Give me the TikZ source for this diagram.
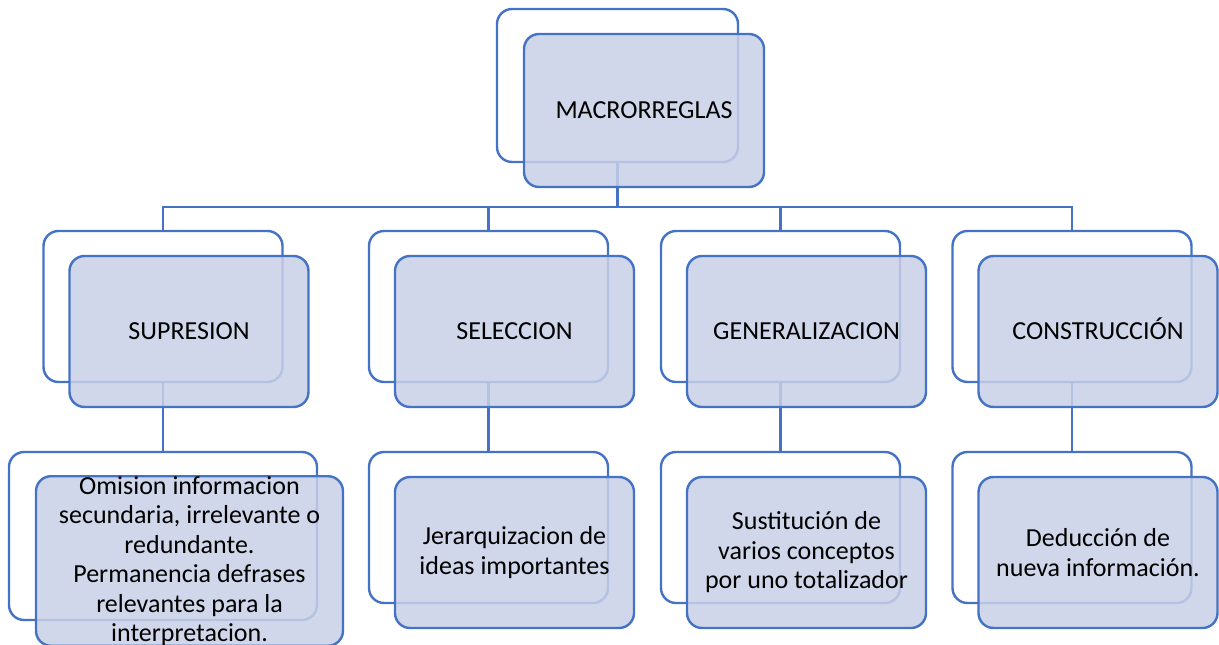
\documentclass[tikz,border=0pt]{standalone}
\usepackage{fontspec}
\setmainfont{Carlito}
\definecolor{azul}{RGB}{68,114,196}
\definecolor{relleno}{RGB}{200,208,230}
\begin{document}
\begin{tikzpicture}[x=1pt, y=-1pt,
  back/.style={draw=azul, line width=2.4pt, rounded corners=15pt, minimum width=239pt, minimum height=151pt, inner sep=0pt},
  front/.style={back, fill=relleno, fill opacity=.85, text opacity=1, align=center, font=\fontsize{26}{29.5}\selectfont},
  title/.style={front, text height=16.7pt, text depth=0pt},
  link/.style={draw=azul, line width=2.2pt}]
 \useasboundingbox (0,0) rectangle (1219,645);
 % back boxes
 \node[back, minimum width=241pt, minimum height=153pt] (macroB) at (617.5,85.5) {};
 \foreach \n/\x in {sup/163, sel/488.5, gen/780.5, con/1072}
 {
     \node[back] (\n B) at (\x,306.5) {};
 }
 \foreach \n/\x in {jer/488.5, sus/780.5, ded/1072}
 {
     \node[back] (\n B) at (\x,527.5) {};
 }
 \node[back, minimum width=308pt, minimum height=168pt] (omiB) at (163,536) {};
 % connectors
 \foreach \n in {sup, sel, gen, con}
 {
     \draw[link] (macroB.south) -- ++(0,44) -| (\n B.north);
 }
 \draw[link] (supB.south) -- (omiB.north);
 \draw[link] (selB.south) -- (jerB.north);
 \draw[link] (genB.south) -- (susB.north);
 \draw[link] (conB.south) -- (dedB.north);
 % front boxes
 \node[title, minimum width=240pt, minimum height=153pt] (macro) at (644,110.5) {MACRORREGLAS};
 \node[title] (sup) at (189,331.5) {SUPRESION};
 \node[title] (sel) at (514.5,331.5) {SELECCION};
 \node[title] (gen) at (806.5,331.5) {GENERALIZACION};
 \node[title] (con) at (1098,331.5) {CONSTRUCCIÓN};
 \node[front, minimum width=307pt, minimum height=168pt] (omi) at (189.5,561) {Omision informacion\\secundaria, irrelevante o\\redundante.\\Permanencia defrases\\relevantes para la\\interpretacion.};
 \node[front] (jer) at (514.5,552.5) {Jerarquizacion de\\ideas importantes};
 \node[front] (sus) at (806.5,552.5) {Sustitución de\\varios conceptos\\por uno totalizador};
 \node[front] (ded) at (1098,552.5) {Deducción de\\nueva información.};
\end{tikzpicture}
\end{document}
